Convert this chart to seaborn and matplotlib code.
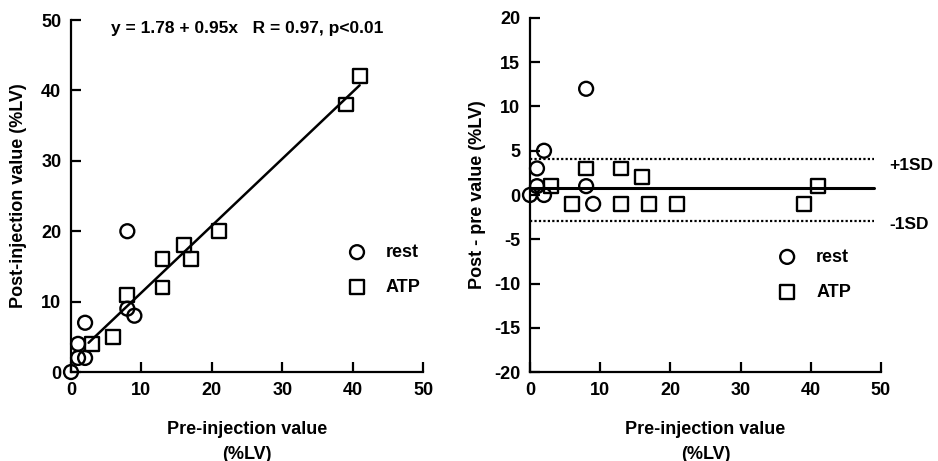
import numpy as np
import pandas as pd
import seaborn as sns
import matplotlib.pyplot as plt

# rest group (pre, post)
rest_pre = [0, 1, 1, 2, 2, 8, 8, 9]
rest_post = [0, 4, 2, 7, 2, 20, 9, 8]
# ATP group (pre, post)
atp_pre = [3, 6, 8, 13, 13, 16, 17, 21, 39, 41]
atp_post = [4, 5, 11, 16, 12, 18, 16, 20, 38, 42]

fit_a, fit_b = 1.78, 0.95
fit_x = [2.5, 41]
mean_diff = 0.8
sd_hi, sd_lo = 4.1, -2.9

sns.set_style('ticks')
plt.rcParams['font.family'] = ['Liberation Sans', 'DejaVu Sans']
plt.rcParams['font.weight'] = 'bold'
plt.rcParams['axes.unicode_minus'] = False
plt.rcParams['text.color'] = 'black'
plt.rcParams['axes.labelcolor'] = 'black'
plt.rcParams['xtick.color'] = 'black'
plt.rcParams['ytick.color'] = 'black'
plt.rcParams['axes.edgecolor'] = 'black'

rest = pd.DataFrame({'pre': rest_pre, 'post': rest_post})
rest['diff'] = rest['post'] - rest['pre']
atp = pd.DataFrame({'pre': atp_pre, 'post': atp_post})
atp['diff'] = atp['post'] - atp['pre']

fig = plt.figure(figsize=(9.38, 4.61), dpi=100)
ax1 = fig.add_axes([0.0757, 0.193, 0.3753, 0.7636])
ax2 = fig.add_axes([0.565, 0.193, 0.3742, 0.768])

mk = dict(facecolor='none', edgecolor='black', linewidth=1.7, s=100, clip_on=False, zorder=3)


def style_axes(ax, ylim, yticks):
    ax.set_xlim(0, 50)
    ax.set_ylim(*ylim)
    ax.set_xticks(range(0, 51, 10))
    ax.set_yticks(yticks)
    for s in ['top', 'right']:
        ax.spines[s].set_visible(False)
    for s in ['left', 'bottom']:
        ax.spines[s].set_linewidth(1.6)
    ax.tick_params(direction='in', length=7, width=1.6, labelsize=13, pad=7)
    for lab in ax.get_xticklabels() + ax.get_yticklabels():
        lab.set_fontweight('bold')


# left: post vs pre
sns.scatterplot(data=rest, x='pre', y='post', marker='o', label='rest', ax=ax1, **mk)
sns.scatterplot(data=atp, x='pre', y='post', marker='s', label='ATP', ax=ax1, **mk)
fx = np.array(fit_x)
sns.lineplot(x=fx, y=fit_a + fit_b * fx, color='black', linewidth=1.8, ax=ax1)
style_axes(ax1, (0, 50), range(0, 51, 10))
ax1.set_xlabel('Pre-injection value\n(%LV)', fontsize=13, fontweight='bold', labelpad=16,
               linespacing=1.6)
ax1.set_ylabel('Post-injection value (%LV)', fontsize=13, fontweight='bold', labelpad=10)
ax1.text(25, 48.8, 'y = 1.78 + 0.95x   R = 0.97, p<0.01', ha='center', va='center',
         fontsize=12.5, fontweight='bold')
ax1.legend(loc='center left', bbox_to_anchor=(0.715, 0.29), frameon=False,
           handletextpad=0.6, labelspacing=1.0, prop={'weight': 'bold', 'size': 13})

# right: difference vs pre
sns.scatterplot(data=rest, x='pre', y='diff', marker='o', label='rest', ax=ax2, **mk)
sns.scatterplot(data=atp, x='pre', y='diff', marker='s', label='ATP', ax=ax2, **mk)
ax2.plot([0, 49], [mean_diff, mean_diff], color='black', linewidth=2.2)
ax2.plot([0, 49], [sd_hi, sd_hi], color='black', linewidth=1.6, linestyle=(0, (1, 1)))
ax2.plot([0, 49], [sd_lo, sd_lo], color='black', linewidth=1.6, linestyle=(0, (1, 1)))
style_axes(ax2, (-20, 20), range(-20, 21, 5))
ax2.set_xlabel('Pre-injection value\n(%LV)', fontsize=13, fontweight='bold', labelpad=16,
               linespacing=1.6)
ax2.set_ylabel('Post - pre value (%LV)', fontsize=13, fontweight='bold', labelpad=6)
ax2.text(51.2, 3.3, '+1SD', ha='left', va='center', fontsize=12.5, fontweight='bold', clip_on=False)
ax2.text(51.2, -3.3, '-1SD', ha='left', va='center', fontsize=12.5, fontweight='bold', clip_on=False)
ax2.legend(loc='center left', bbox_to_anchor=(0.635, 0.275), frameon=False,
           handletextpad=0.6, labelspacing=1.0, prop={'weight': 'bold', 'size': 13})

fig.savefig('out.png', dpi=100)
